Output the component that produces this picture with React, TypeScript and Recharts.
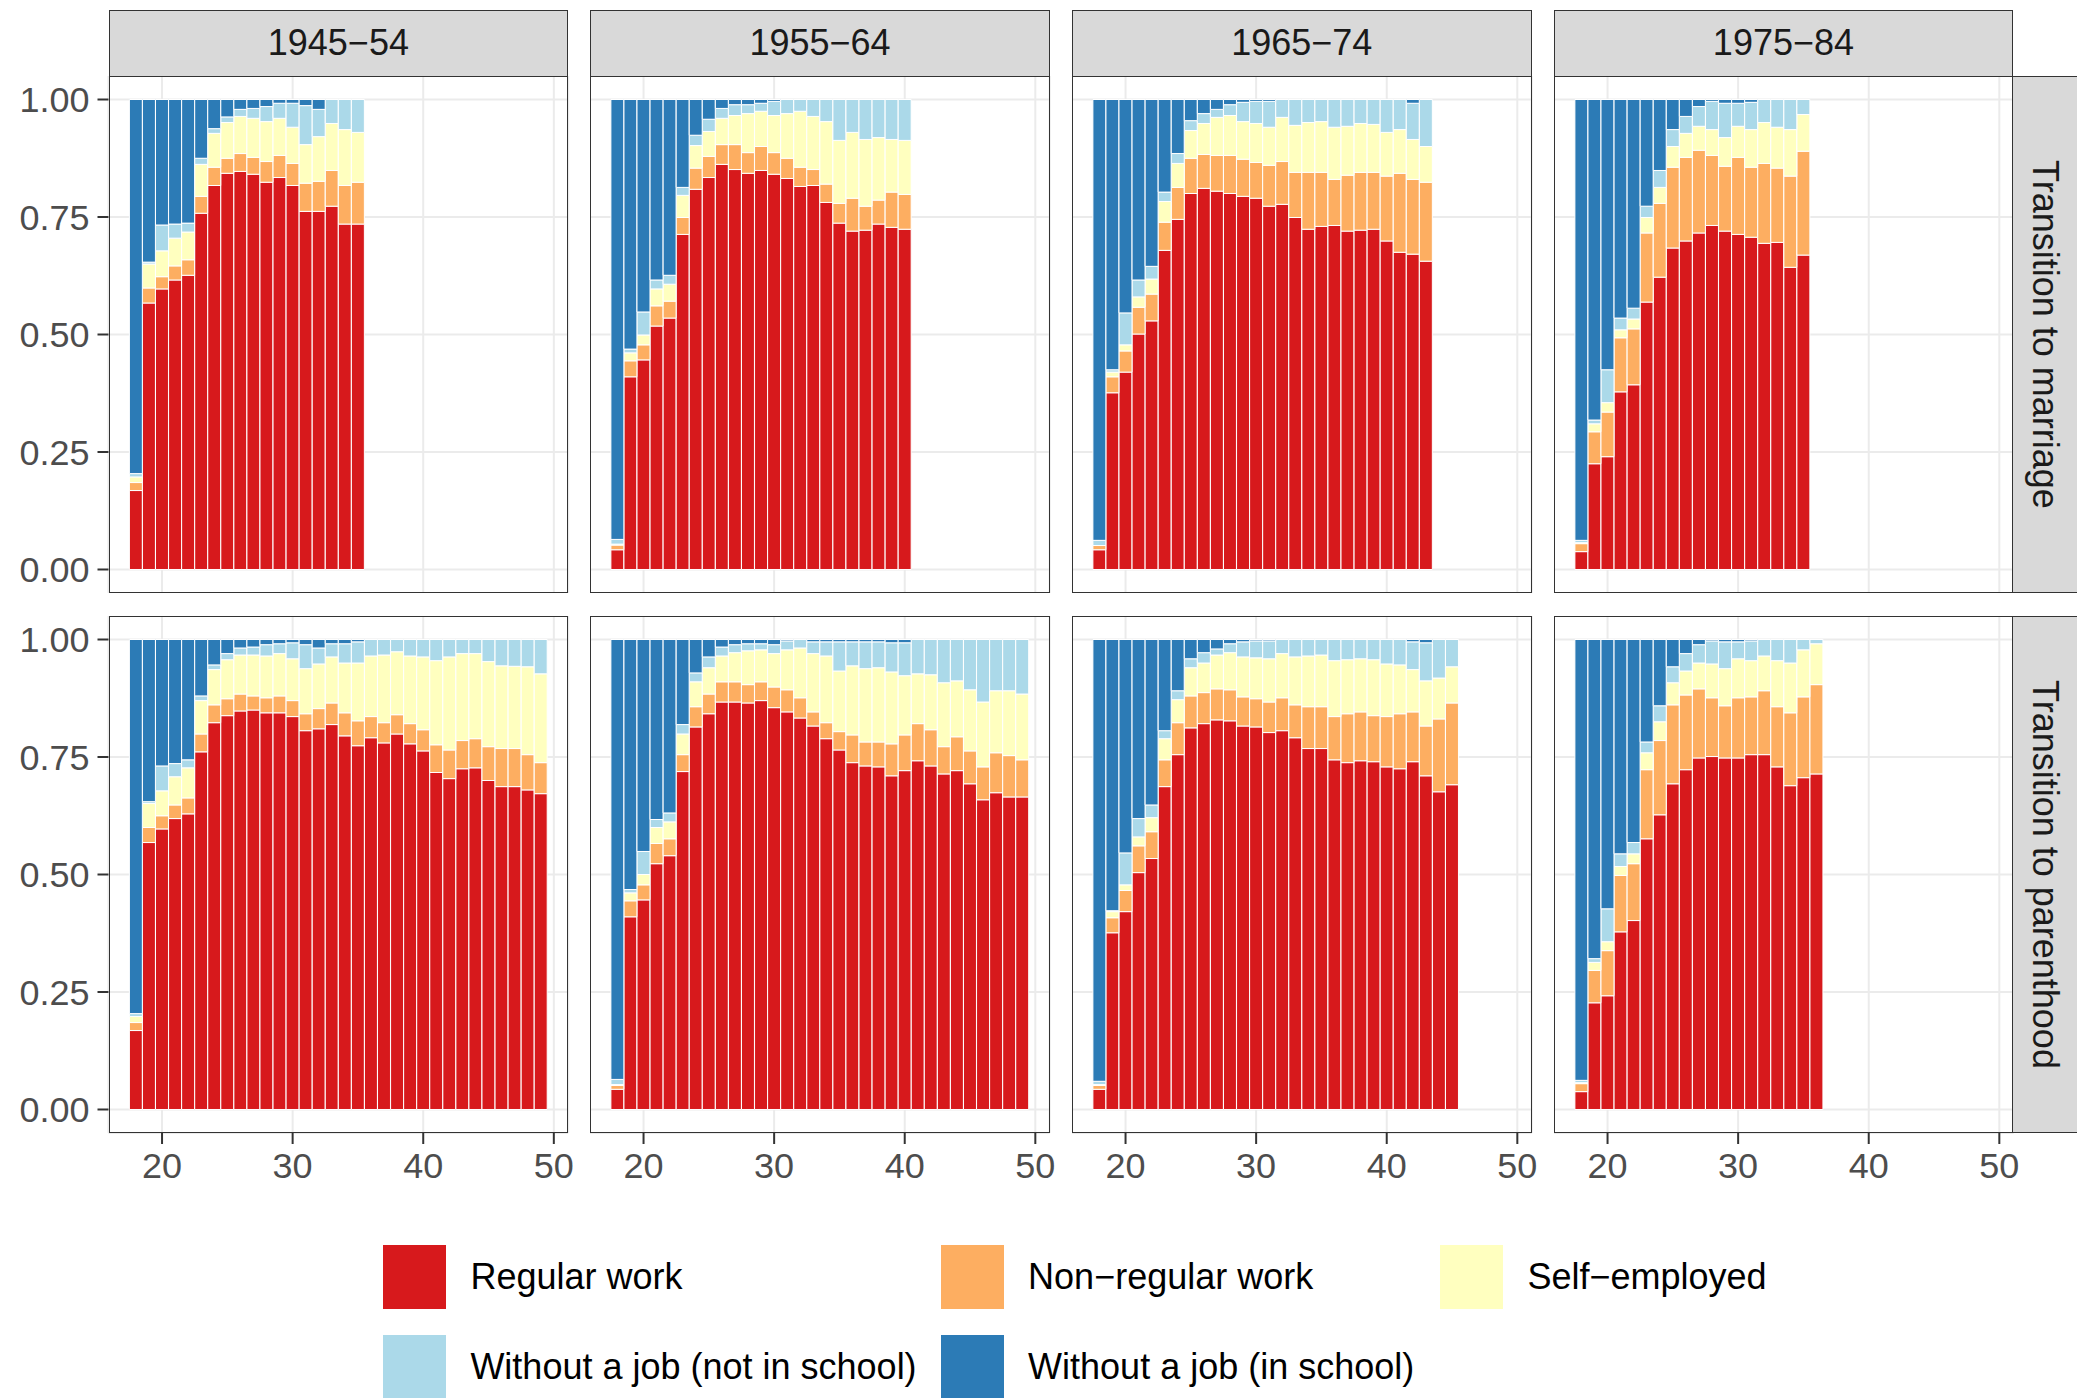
import { BarChart, Bar, XAxis, YAxis, CartesianGrid } from "recharts";

// Share of each employment status by age, one row per age starting at 18:
// [regular, non-regular, self-employed, no job (not in school), no job (in school)]
const AGES = [
  18, 19, 20, 21, 22, 23, 24, 25, 26, 27, 28, 29, 30, 31, 32, 33,
  34, 35, 36, 37, 38, 39, 40, 41, 42, 43, 44, 45, 46, 47, 48, 49,
];

const COHORTS = ["1945−54", "1955−64", "1965−74", "1975−84"];
const TRANSITIONS = ["Transition to marriage", "Transition to parenthood"];

const STATUS = [
  { key: "regular", label: "Regular work", color: "#D7191C" },
  { key: "nonregular", label: "Non−regular work", color: "#FDAE61" },
  { key: "self", label: "Self−employed", color: "#FFFFBF" },
  { key: "nojob", label: "Without a job (not in school)", color: "#ABD9E9" },
  { key: "school", label: "Without a job (in school)", color: "#2C7BB6" },
];

const m1945 = [
  [0.168, 0.017, 0.012, 0.007, 0.796],
  [0.567, 0.032, 0.051, 0.004, 0.346],
  [0.597, 0.026, 0.055, 0.055, 0.267],
  [0.616, 0.03, 0.059, 0.03, 0.265],
  [0.626, 0.033, 0.059, 0.019, 0.263],
  [0.758, 0.036, 0.068, 0.013, 0.125],
  [0.817, 0.039, 0.072, 0.01, 0.062],
  [0.843, 0.032, 0.076, 0.012, 0.037],
  [0.847, 0.038, 0.079, 0.015, 0.021],
  [0.841, 0.036, 0.083, 0.021, 0.019],
  [0.824, 0.044, 0.085, 0.032, 0.015],
  [0.834, 0.047, 0.079, 0.032, 0.008],
  [0.817, 0.047, 0.077, 0.051, 0.008],
  [0.762, 0.06, 0.082, 0.083, 0.013],
  [0.762, 0.064, 0.095, 0.058, 0.021],
  [0.773, 0.076, 0.1, 0.051, 0],
  [0.735, 0.082, 0.119, 0.064, 0],
  [0.735, 0.089, 0.106, 0.07, 0],
];

const m1955 = [
  [0.042, 0.01, 0.002, 0.01, 0.936],
  [0.41, 0.034, 0.017, 0.008, 0.531],
  [0.446, 0.032, 0.021, 0.049, 0.452],
  [0.518, 0.043, 0.036, 0.019, 0.384],
  [0.535, 0.036, 0.036, 0.019, 0.374],
  [0.713, 0.036, 0.047, 0.017, 0.187],
  [0.809, 0.045, 0.048, 0.022, 0.076],
  [0.834, 0.045, 0.053, 0.026, 0.042],
  [0.862, 0.042, 0.056, 0.021, 0.019],
  [0.851, 0.053, 0.062, 0.023, 0.011],
  [0.843, 0.044, 0.083, 0.019, 0.011],
  [0.849, 0.051, 0.075, 0.017, 0.008],
  [0.841, 0.046, 0.079, 0.03, 0.004],
  [0.832, 0.043, 0.095, 0.03, 0],
  [0.815, 0.041, 0.119, 0.025, 0],
  [0.817, 0.034, 0.113, 0.036, 0],
  [0.781, 0.039, 0.133, 0.047, 0],
  [0.737, 0.042, 0.134, 0.087, 0],
  [0.72, 0.07, 0.14, 0.07, 0],
  [0.722, 0.051, 0.142, 0.085, 0],
  [0.735, 0.051, 0.133, 0.081, 0],
  [0.728, 0.075, 0.112, 0.085, 0],
  [0.724, 0.074, 0.115, 0.087, 0],
];

const m1965 = [
  [0.042, 0.009, 0, 0.011, 0.938],
  [0.376, 0.034, 0.01, 0.005, 0.575],
  [0.42, 0.045, 0.013, 0.068, 0.454],
  [0.501, 0.057, 0.022, 0.036, 0.384],
  [0.529, 0.057, 0.032, 0.027, 0.355],
  [0.679, 0.06, 0.044, 0.02, 0.197],
  [0.745, 0.068, 0.051, 0.021, 0.115],
  [0.8, 0.075, 0.059, 0.021, 0.045],
  [0.811, 0.072, 0.066, 0.021, 0.03],
  [0.805, 0.076, 0.081, 0.017, 0.021],
  [0.8, 0.081, 0.085, 0.023, 0.011],
  [0.794, 0.079, 0.08, 0.041, 0.006],
  [0.79, 0.076, 0.083, 0.047, 0.004],
  [0.773, 0.087, 0.081, 0.055, 0.004],
  [0.777, 0.091, 0.094, 0.038, 0],
  [0.749, 0.096, 0.1, 0.055, 0],
  [0.724, 0.121, 0.106, 0.049, 0],
  [0.73, 0.115, 0.108, 0.047, 0],
  [0.732, 0.098, 0.111, 0.059, 0],
  [0.72, 0.119, 0.104, 0.057, 0],
  [0.722, 0.123, 0.104, 0.051, 0],
  [0.724, 0.121, 0.102, 0.053, 0],
  [0.699, 0.138, 0.093, 0.07, 0],
  [0.675, 0.168, 0.093, 0.064, 0],
  [0.671, 0.159, 0.085, 0.077, 0.008],
  [0.656, 0.168, 0.076, 0.1, 0],
];

const m1975 = [
  [0.038, 0.017, 0.002, 0.005, 0.938],
  [0.225, 0.068, 0.017, 0.008, 0.682],
  [0.24, 0.095, 0.02, 0.07, 0.575],
  [0.378, 0.115, 0.017, 0.025, 0.465],
  [0.393, 0.119, 0.021, 0.023, 0.444],
  [0.569, 0.147, 0.033, 0.024, 0.227],
  [0.622, 0.157, 0.034, 0.036, 0.151],
  [0.684, 0.172, 0.044, 0.036, 0.064],
  [0.699, 0.178, 0.051, 0.036, 0.036],
  [0.716, 0.176, 0.051, 0.042, 0.015],
  [0.732, 0.149, 0.055, 0.06, 0.004],
  [0.72, 0.138, 0.061, 0.073, 0.008],
  [0.713, 0.164, 0.066, 0.049, 0.008],
  [0.707, 0.149, 0.08, 0.058, 0.006],
  [0.694, 0.17, 0.087, 0.049, 0],
  [0.696, 0.158, 0.087, 0.059, 0],
  [0.643, 0.194, 0.099, 0.064, 0],
  [0.669, 0.221, 0.078, 0.032, 0],
];

const p1945 = [
  [0.168, 0.017, 0.013, 0.006, 0.796],
  [0.568, 0.032, 0.051, 0.004, 0.345],
  [0.597, 0.028, 0.053, 0.053, 0.269],
  [0.619, 0.029, 0.06, 0.028, 0.264],
  [0.629, 0.034, 0.064, 0.017, 0.256],
  [0.761, 0.038, 0.071, 0.01, 0.12],
  [0.823, 0.038, 0.075, 0.01, 0.054],
  [0.838, 0.036, 0.083, 0.013, 0.03],
  [0.848, 0.036, 0.083, 0.015, 0.018],
  [0.85, 0.03, 0.087, 0.017, 0.016],
  [0.844, 0.032, 0.089, 0.024, 0.011],
  [0.844, 0.036, 0.09, 0.021, 0.009],
  [0.836, 0.034, 0.089, 0.034, 0.007],
  [0.806, 0.036, 0.096, 0.051, 0.011],
  [0.81, 0.043, 0.095, 0.034, 0.018],
  [0.819, 0.046, 0.098, 0.028, 0.009],
  [0.795, 0.049, 0.106, 0.041, 0.009],
  [0.774, 0.053, 0.123, 0.045, 0.005],
  [0.791, 0.045, 0.129, 0.035, 0],
  [0.78, 0.043, 0.144, 0.033, 0],
  [0.799, 0.041, 0.134, 0.026, 0],
  [0.778, 0.043, 0.144, 0.035, 0],
  [0.763, 0.045, 0.155, 0.037, 0],
  [0.717, 0.059, 0.179, 0.045, 0],
  [0.704, 0.061, 0.198, 0.037, 0],
  [0.725, 0.06, 0.185, 0.03, 0],
  [0.727, 0.062, 0.181, 0.03, 0],
  [0.7, 0.072, 0.181, 0.047, 0],
  [0.687, 0.081, 0.176, 0.056, 0],
  [0.687, 0.081, 0.175, 0.057, 0],
  [0.68, 0.075, 0.187, 0.058, 0],
  [0.672, 0.066, 0.189, 0.073, 0],
];

const p1955 = [
  [0.043, 0.008, 0.002, 0.011, 0.936],
  [0.41, 0.034, 0.017, 0.007, 0.532],
  [0.446, 0.032, 0.022, 0.049, 0.451],
  [0.523, 0.043, 0.034, 0.017, 0.383],
  [0.54, 0.036, 0.036, 0.019, 0.369],
  [0.719, 0.036, 0.044, 0.02, 0.181],
  [0.814, 0.043, 0.053, 0.019, 0.071],
  [0.842, 0.042, 0.056, 0.023, 0.037],
  [0.867, 0.043, 0.055, 0.019, 0.016],
  [0.867, 0.043, 0.062, 0.017, 0.011],
  [0.865, 0.039, 0.072, 0.015, 0.009],
  [0.87, 0.04, 0.068, 0.013, 0.009],
  [0.855, 0.044, 0.071, 0.019, 0.011],
  [0.846, 0.047, 0.085, 0.019, 0.003],
  [0.833, 0.043, 0.106, 0.018, 0],
  [0.816, 0.03, 0.124, 0.025, 0.005],
  [0.789, 0.034, 0.142, 0.03, 0.005],
  [0.765, 0.039, 0.129, 0.062, 0.005],
  [0.738, 0.059, 0.147, 0.051, 0.005],
  [0.731, 0.051, 0.156, 0.057, 0.005],
  [0.729, 0.053, 0.158, 0.055, 0.005],
  [0.71, 0.068, 0.153, 0.062, 0.007],
  [0.721, 0.076, 0.126, 0.07, 0.007],
  [0.742, 0.079, 0.106, 0.073, 0],
  [0.731, 0.077, 0.117, 0.075, 0],
  [0.714, 0.058, 0.136, 0.092, 0],
  [0.721, 0.072, 0.119, 0.088, 0],
  [0.693, 0.07, 0.13, 0.107, 0],
  [0.659, 0.07, 0.138, 0.133, 0],
  [0.674, 0.085, 0.132, 0.109, 0],
  [0.665, 0.088, 0.138, 0.109, 0],
  [0.665, 0.079, 0.14, 0.116, 0],
];

const p1965 = [
  [0.043, 0.008, 0.002, 0.007, 0.94],
  [0.376, 0.032, 0.013, 0.002, 0.577],
  [0.421, 0.045, 0.012, 0.068, 0.454],
  [0.504, 0.057, 0.019, 0.039, 0.381],
  [0.534, 0.057, 0.03, 0.027, 0.352],
  [0.687, 0.057, 0.045, 0.017, 0.194],
  [0.755, 0.068, 0.049, 0.019, 0.109],
  [0.812, 0.068, 0.06, 0.019, 0.041],
  [0.821, 0.066, 0.063, 0.022, 0.028],
  [0.829, 0.066, 0.072, 0.013, 0.02],
  [0.827, 0.066, 0.079, 0.019, 0.009],
  [0.816, 0.062, 0.085, 0.032, 0.005],
  [0.814, 0.06, 0.087, 0.036, 0.003],
  [0.802, 0.065, 0.092, 0.038, 0.003],
  [0.806, 0.07, 0.094, 0.03, 0],
  [0.791, 0.07, 0.102, 0.037, 0],
  [0.768, 0.089, 0.108, 0.035, 0],
  [0.768, 0.089, 0.11, 0.033, 0],
  [0.744, 0.092, 0.119, 0.045, 0],
  [0.738, 0.104, 0.115, 0.043, 0],
  [0.742, 0.104, 0.113, 0.041, 0],
  [0.74, 0.098, 0.119, 0.043, 0],
  [0.729, 0.107, 0.112, 0.052, 0],
  [0.725, 0.117, 0.104, 0.054, 0],
  [0.74, 0.106, 0.09, 0.059, 0.005],
  [0.71, 0.106, 0.096, 0.081, 0.007],
  [0.676, 0.155, 0.087, 0.082, 0],
  [0.691, 0.174, 0.077, 0.058, 0],
];

const p1975 = [
  [0.038, 0.017, 0.002, 0.005, 0.938],
  [0.227, 0.069, 0.017, 0.008, 0.679],
  [0.242, 0.096, 0.019, 0.07, 0.573],
  [0.378, 0.12, 0.019, 0.027, 0.456],
  [0.402, 0.121, 0.021, 0.024, 0.432],
  [0.576, 0.147, 0.036, 0.023, 0.218],
  [0.627, 0.158, 0.04, 0.034, 0.141],
  [0.693, 0.168, 0.047, 0.034, 0.058],
  [0.723, 0.159, 0.051, 0.037, 0.03],
  [0.748, 0.147, 0.055, 0.039, 0.011],
  [0.751, 0.125, 0.072, 0.049, 0.003],
  [0.748, 0.111, 0.079, 0.057, 0.005],
  [0.748, 0.128, 0.083, 0.036, 0.005],
  [0.755, 0.123, 0.077, 0.042, 0.003],
  [0.755, 0.136, 0.074, 0.035, 0],
  [0.729, 0.128, 0.098, 0.045, 0],
  [0.689, 0.155, 0.106, 0.05, 0],
  [0.706, 0.172, 0.1, 0.022, 0],
  [0.714, 0.19, 0.087, 0.009, 0],
];

const GRID_ROWS = [
  [m1945, m1955, m1965, m1975],
  [p1945, p1955, p1965, p1975],
];

const X_TICKS = [20, 30, 40, 50];
const Y_TICKS = [0, 0.25, 0.5, 0.75, 1];
const X_DOMAIN: [number, number] = [15.9, 51.1];
const Y_DOMAIN: [number, number] = [-0.05, 1.05];

// layout (px)
const PANEL_LEFT = [108.5, 590.2, 1071.9, 1553.6];
const PANEL_TOP = [75.5, 615.5];
const PANEL_W = 459.7;
const PANEL_H = 517;
const STRIP = 66;
const Y_AXIS_W = 108.5;
const X_AXIS_H = 70;
const RIGHT_PAD = 30; // room for the last tick label
const BAR_PX = PANEL_W / (X_DOMAIN[1] - X_DOMAIN[0]) - 0.1;

const FONT = '"Liberation Sans", Arial, Helvetica, sans-serif';
const FONT_SIZE = 36;
const BORDER = "1.5px solid #333333";

function Panel({ rows, row, col }: { rows: number[][]; row: number; col: number }) {
  const showY = col === 0;
  const showX = row === 1;
  const data = rows.map((v, i) => {
    const d: Record<string, number> = { age: AGES[i] };
    STATUS.forEach((s, j) => (d[s.key] = v[j]));
    return d;
  });
  const width = PANEL_W + (showY ? Y_AXIS_W : 0) + RIGHT_PAD;
  const height = PANEL_H + (showX ? X_AXIS_H : 0);
  const axisText = { fill: "#4D4D4D", fontSize: FONT_SIZE };

  return (
    <div
      style={{
        position: "absolute",
        left: PANEL_LEFT[col] - (showY ? Y_AXIS_W : 0),
        top: PANEL_TOP[row],
        width,
        height,
      }}
    >
      <BarChart
        width={width}
        height={height}
        data={data}
        margin={{ top: 0, right: RIGHT_PAD, bottom: 0, left: 0 }}
      >
        <CartesianGrid stroke="#EBEBEB" strokeWidth={2} />
        <XAxis
          type="number"
          dataKey="age"
          domain={X_DOMAIN}
          allowDataOverflow
          ticks={X_TICKS}
          interval={0}
          hide={!showX}
          height={X_AXIS_H}
          tick={axisText}
          tickSize={11}
          tickMargin={8}
          tickLine={{ stroke: "#333333", strokeWidth: 2 }}
          axisLine={false}
        />
        <YAxis
          type="number"
          domain={Y_DOMAIN}
          allowDataOverflow
          ticks={Y_TICKS}
          interval={0}
          tickFormatter={(v: number) => v.toFixed(2)}
          hide={!showY}
          width={Y_AXIS_W}
          tick={axisText}
          tickSize={11}
          tickMargin={8}
          tickLine={{ stroke: "#333333", strokeWidth: 2 }}
          axisLine={false}
        />
        {STATUS.map((s) => (
          <Bar
            key={s.key}
            dataKey={s.key}
            stackId="share"
            fill={s.color}
            stroke="#FFFFFF"
            strokeWidth={1}
            barSize={BAR_PX}
            isAnimationActive={false}
          />
        ))}
      </BarChart>
    </div>
  );
}

function Legend() {
  const cols = [382.8, 940.5, 1439.8];
  const rowsY = [1245, 1335];
  const key = 63.6;
  return (
    <>
      {STATUS.map((s, i) => {
        const left = cols[i % 3];
        const top = rowsY[Math.floor(i / 3)];
        return (
          <div key={s.key} style={{ position: "absolute", left, top, height: key, display: "flex", alignItems: "center" }}>
            <div style={{ width: key, height: key, background: s.color }} />
            <span style={{ marginLeft: 24, fontSize: FONT_SIZE, color: "#000000", whiteSpace: "nowrap" }}>{s.label}</span>
          </div>
        );
      })}
    </>
  );
}

export default function App() {
  return (
    <div
      style={{
        position: "absolute",
        left: 0,
        top: 0,
        width: 2077,
        height: 1398,
        background: "#FFFFFF",
        overflow: "hidden",
        fontFamily: FONT,
      }}
    >
      {GRID_ROWS.map((cells, row) =>
        cells.map((rows, col) => <Panel key={`${row}-${col}`} rows={rows} row={row} col={col} />)
      )}

      {/* panel frames */}
      {GRID_ROWS.map((cells, row) =>
        cells.map((_, col) => (
          <div
            key={`f-${row}-${col}`}
            style={{
              position: "absolute",
              left: PANEL_LEFT[col],
              top: PANEL_TOP[row],
              width: PANEL_W,
              height: PANEL_H,
              border: BORDER,
              boxSizing: "border-box",
              pointerEvents: "none",
            }}
          />
        ))
      )}

      {/* cohort strips */}
      {COHORTS.map((c, col) => (
        <div
          key={c}
          style={{
            position: "absolute",
            left: PANEL_LEFT[col],
            top: PANEL_TOP[0] - STRIP,
            width: PANEL_W,
            height: STRIP + 1,
            background: "#D9D9D9",
            border: BORDER,
            boxSizing: "border-box",
            display: "flex",
            alignItems: "center",
            justifyContent: "center",
            fontSize: FONT_SIZE,
            color: "#1A1A1A",
          }}
        >
          {c}
        </div>
      ))}

      {/* transition strips */}
      {TRANSITIONS.map((t, row) => (
        <div
          key={t}
          style={{
            position: "absolute",
            left: PANEL_LEFT[3] + PANEL_W - 1,
            top: PANEL_TOP[row],
            width: STRIP,
            height: PANEL_H,
            background: "#D9D9D9",
            border: BORDER,
            boxSizing: "border-box",
            display: "flex",
            alignItems: "center",
            justifyContent: "center",
            fontSize: FONT_SIZE,
            color: "#1A1A1A",
          }}
        >
          <span style={{ writingMode: "vertical-rl", whiteSpace: "nowrap" }}>{t}</span>
        </div>
      ))}

      <Legend />
    </div>
  );
}
